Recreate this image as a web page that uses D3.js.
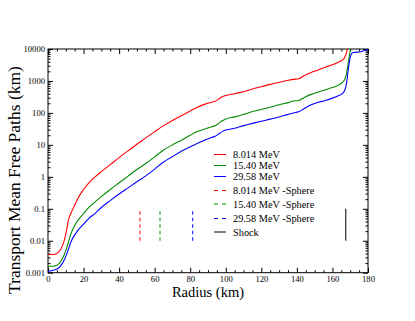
<!DOCTYPE html>
<html>
<head>
<meta charset="utf-8">
<script src="https://cdn.jsdelivr.net/npm/d3@7"></script>
<style>
  body { margin: 0; background: #fff; }
  svg { display: block; }
  svg text { font-family: "Liberation Serif", "Times New Roman", Times, serif; }
</style>
</head>
<body>
<div id="chart"></div>
<script>
// radius grid (km) shared by the three solid curves
const radius = [0, 3, 5, 7, 9, 10.5, 11.5, 13, 15, 17, 20, 23, 26.5, 30, 35, 40, 45, 50, 55, 60,
  65, 70, 75, 80, 84, 88, 92, 94, 96, 98, 100, 105, 110, 115, 120, 125, 130, 135, 138, 141,
  144, 148, 152, 156, 160, 163, 165.5, 167, 168, 169, 170, 171, 172, 176, 178, 180];

const mfp8 = [0.0037, 0.0037, 0.0040, 0.0052, 0.0095, 0.022, 0.045, 0.075, 0.13, 0.22, 0.40, 0.65, 1.0, 1.45, 2.4, 4.0,
  6.5, 10.5, 16.5, 26, 40, 58, 82, 115, 150, 185, 215, 230, 270, 320, 350, 400, 460, 560, 660, 780,
  900, 1050, 1120, 1180, 1450, 1850, 2200, 2700, 3200, 3800, 4500, 5600, 8000, 14000, 30000, 30000, 30000, 30000, 30000, 30000];

const mfp15 = [0.0016, 0.0016, 0.0017, 0.0022, 0.0035, 0.0060, 0.0090, 0.017, 0.030, 0.045, 0.070, 0.11, 0.165, 0.24, 0.40, 0.65,
  1.05, 1.7, 2.6, 4.2, 6.9, 10, 14, 20, 26, 31, 37, 40, 47, 57, 65, 75, 90, 110, 128, 150,
  180, 210, 235, 245, 300, 380, 450, 530, 620, 720, 880, 1150, 1800, 4000, 9000, 20000, 30000, 30000, 30000, 30000];

const mfp29 = [0.0011, 0.0012, 0.0013, 0.0016, 0.0024, 0.0038, 0.0055, 0.0095, 0.015, 0.022, 0.033, 0.05, 0.072, 0.11, 0.18, 0.29,
  0.45, 0.7, 1.07, 1.75, 2.9, 4.3, 6.3, 8.8, 11, 14, 17, 18.5, 22, 26, 29, 33, 40, 47, 55, 64,
  75, 90, 100, 108, 135, 180, 215, 245, 290, 340, 400, 520, 900, 2500, 5500, 7400, 7800, 8200, 9000, 9400];

const seriesNames = ['8.014 MeV', '15.40 MeV', '29.58 MeV'];
const seriesColors = ['#ff0000', '#008b00', '#0000ff'];

// sphere radii and shock position (km), drawn between 0.01 and 0.1
const sphereRadius = [51.7, 63, 81.4];
const sphereNames = ['8.014 MeV -Sphere', '15.40 MeV -Sphere', '29.58 MeV -Sphere'];
const shockRadius = 167.5;
const markerRange = [0.01, 0.1];

const xTicks = [0, 20, 40, 60, 80, 100, 120, 140, 160, 180];
const yTicks = [0.001, 0.01, 0.1, 1, 10, 100, 1000, 10000];
const yTickLabels = ['0.001', '0.01', '0.1', '1', '10', '100', '1000', '10000'];

const SERIF = '"Liberation Serif", "Times New Roman", Times, serif';
const W = 415, H = 321;
const margin = { top: 49, right: 47, bottom: 48.3, left: 48 };
const width = W - margin.left - margin.right;
const height = H - margin.top - margin.bottom;

const svg = d3.select('#chart').append('svg')
  .attr('width', W)
  .attr('height', H);

const g = svg.append('g')
  .attr('transform', `translate(${margin.left},${margin.top})`);

const x = d3.scaleLinear().domain([0, 180]).range([0, width]);
const y = d3.scaleLog().domain([0.001, 10000]).range([height, 0]);

// minor ticks
const xMinor = d3.range(0, 181, 5).filter(v => v % 20 !== 0);
const yMinor = [];
for (let e = -3; e < 4; e++) for (let k = 2; k < 10; k++) yMinor.push(k * Math.pow(10, e));

g.append('defs').append('clipPath').attr('id', 'clip')
  .append('rect').attr('width', width).attr('height', height);

function styleAxis(sel) {
  sel.select('.domain').remove();
  sel.selectAll('line').attr('stroke', '#000').attr('stroke-width', 1);
  sel.selectAll('text').attr('font-size', '8.6px').attr('fill', '#000')
    .style('font-family', SERIF);
}

// bottom
g.append('g').attr('transform', `translate(0,${height})`)
  .call(d3.axisBottom(x).tickValues(xTicks).tickFormat(d3.format('d')).tickSize(-5).tickSizeOuter(0).tickPadding(3.5))
  .call(styleAxis);
g.append('g').attr('transform', `translate(0,${height})`)
  .call(d3.axisBottom(x).tickValues(xMinor).tickFormat('').tickSize(-2.5).tickSizeOuter(0))
  .call(styleAxis);
// top
g.append('g')
  .call(d3.axisTop(x).tickValues(xTicks).tickFormat('').tickSize(-5).tickSizeOuter(0))
  .call(styleAxis);
g.append('g')
  .call(d3.axisTop(x).tickValues(xMinor).tickFormat('').tickSize(-2.5).tickSizeOuter(0))
  .call(styleAxis);
// left
g.append('g')
  .call(d3.axisLeft(y).tickValues(yTicks).tickFormat((d, i) => yTickLabels[i]).tickSize(-5).tickSizeOuter(0).tickPadding(3))
  .call(styleAxis);
g.append('g')
  .call(d3.axisLeft(y).tickValues(yMinor).tickFormat('').tickSize(-2.5).tickSizeOuter(0))
  .call(styleAxis);
// right
g.append('g').attr('transform', `translate(${width},0)`)
  .call(d3.axisRight(y).tickValues(yTicks).tickFormat('').tickSize(-5).tickSizeOuter(0))
  .call(styleAxis);
g.append('g').attr('transform', `translate(${width},0)`)
  .call(d3.axisRight(y).tickValues(yMinor).tickFormat('').tickSize(-2.5).tickSizeOuter(0))
  .call(styleAxis);

// frame
g.append('rect')
  .attr('width', width).attr('height', height)
  .attr('fill', 'none').attr('stroke', '#000').attr('stroke-width', 1);

// curves
const line = d3.line()
  .x(d => x(d[0]))
  .y(d => y(d[1]))
  .curve(d3.curveMonotoneX);

const curves = [mfp8, mfp15, mfp29];
const plot = g.append('g').attr('clip-path', 'url(#clip)');
curves.forEach((vals, i) => {
  plot.append('path')
    .datum(radius.map((r, j) => [r, vals[j]]))
    .attr('fill', 'none')
    .attr('stroke', seriesColors[i])
    .attr('stroke-width', 1.1)
    .attr('d', line);
});

// sphere markers
plot.selectAll('.sphere')
  .data(sphereRadius)
  .enter().append('line')
  .attr('class', 'sphere')
  .attr('x1', d => x(d)).attr('x2', d => x(d))
  .attr('y1', y(markerRange[0])).attr('y2', y(markerRange[1]))
  .attr('stroke', (d, i) => seriesColors[i])
  .attr('stroke-width', 1)
  .attr('stroke-dasharray', '3.5,3');

// shock
plot.append('line')
  .attr('x1', x(shockRadius)).attr('x2', x(shockRadius))
  .attr('y1', y(markerRange[0])).attr('y2', y(markerRange[1]))
  .attr('stroke', '#000').attr('stroke-width', 1);

// legend
const legendItems = [
  { name: seriesNames[0], color: seriesColors[0], dash: null },
  { name: seriesNames[1], color: seriesColors[1], dash: null },
  { name: seriesNames[2], color: seriesColors[2], dash: null },
  { name: sphereNames[0], color: seriesColors[0], dash: '4,4' },
  { name: sphereNames[1], color: seriesColors[1], dash: '4,4' },
  { name: sphereNames[2], color: seriesColors[2], dash: '4,4' },
  { name: 'Shock', color: '#000', dash: null }
];
const legendRowY = [0, 11, 22, 36, 49.5, 64, 77.5];

const legend = svg.append('g').attr('transform', 'translate(214,154.5)');
const rows = legend.selectAll('g').data(legendItems).enter().append('g')
  .attr('transform', (d, i) => `translate(0,${legendRowY[i]})`);
rows.append('line')
  .attr('x1', 0).attr('x2', 12).attr('y1', 0).attr('y2', 0)
  .attr('stroke', d => d.color)
  .attr('stroke-width', 1)
  .attr('stroke-dasharray', d => d.dash);
rows.append('text')
  .attr('x', 19).attr('y', 0).attr('dy', '0.35em')
  .attr('font-size', '10.3px')
  .style('font-family', SERIF)
  .text(d => d.name);

// axis titles
svg.append('text')
  .attr('x', margin.left + width / 2)
  .attr('y', 296.5)
  .attr('text-anchor', 'middle')
  .attr('font-size', '14.5px')
  .style('font-family', SERIF)
  .text('Radius (km)');

svg.append('text')
  .attr('transform', 'translate(20,180) rotate(-90)')
  .attr('text-anchor', 'middle')
  .attr('font-size', '17.5px')
  .style('font-family', SERIF)
  .text('Transport Mean Free Paths (km)');
</script>
</body>
</html>
